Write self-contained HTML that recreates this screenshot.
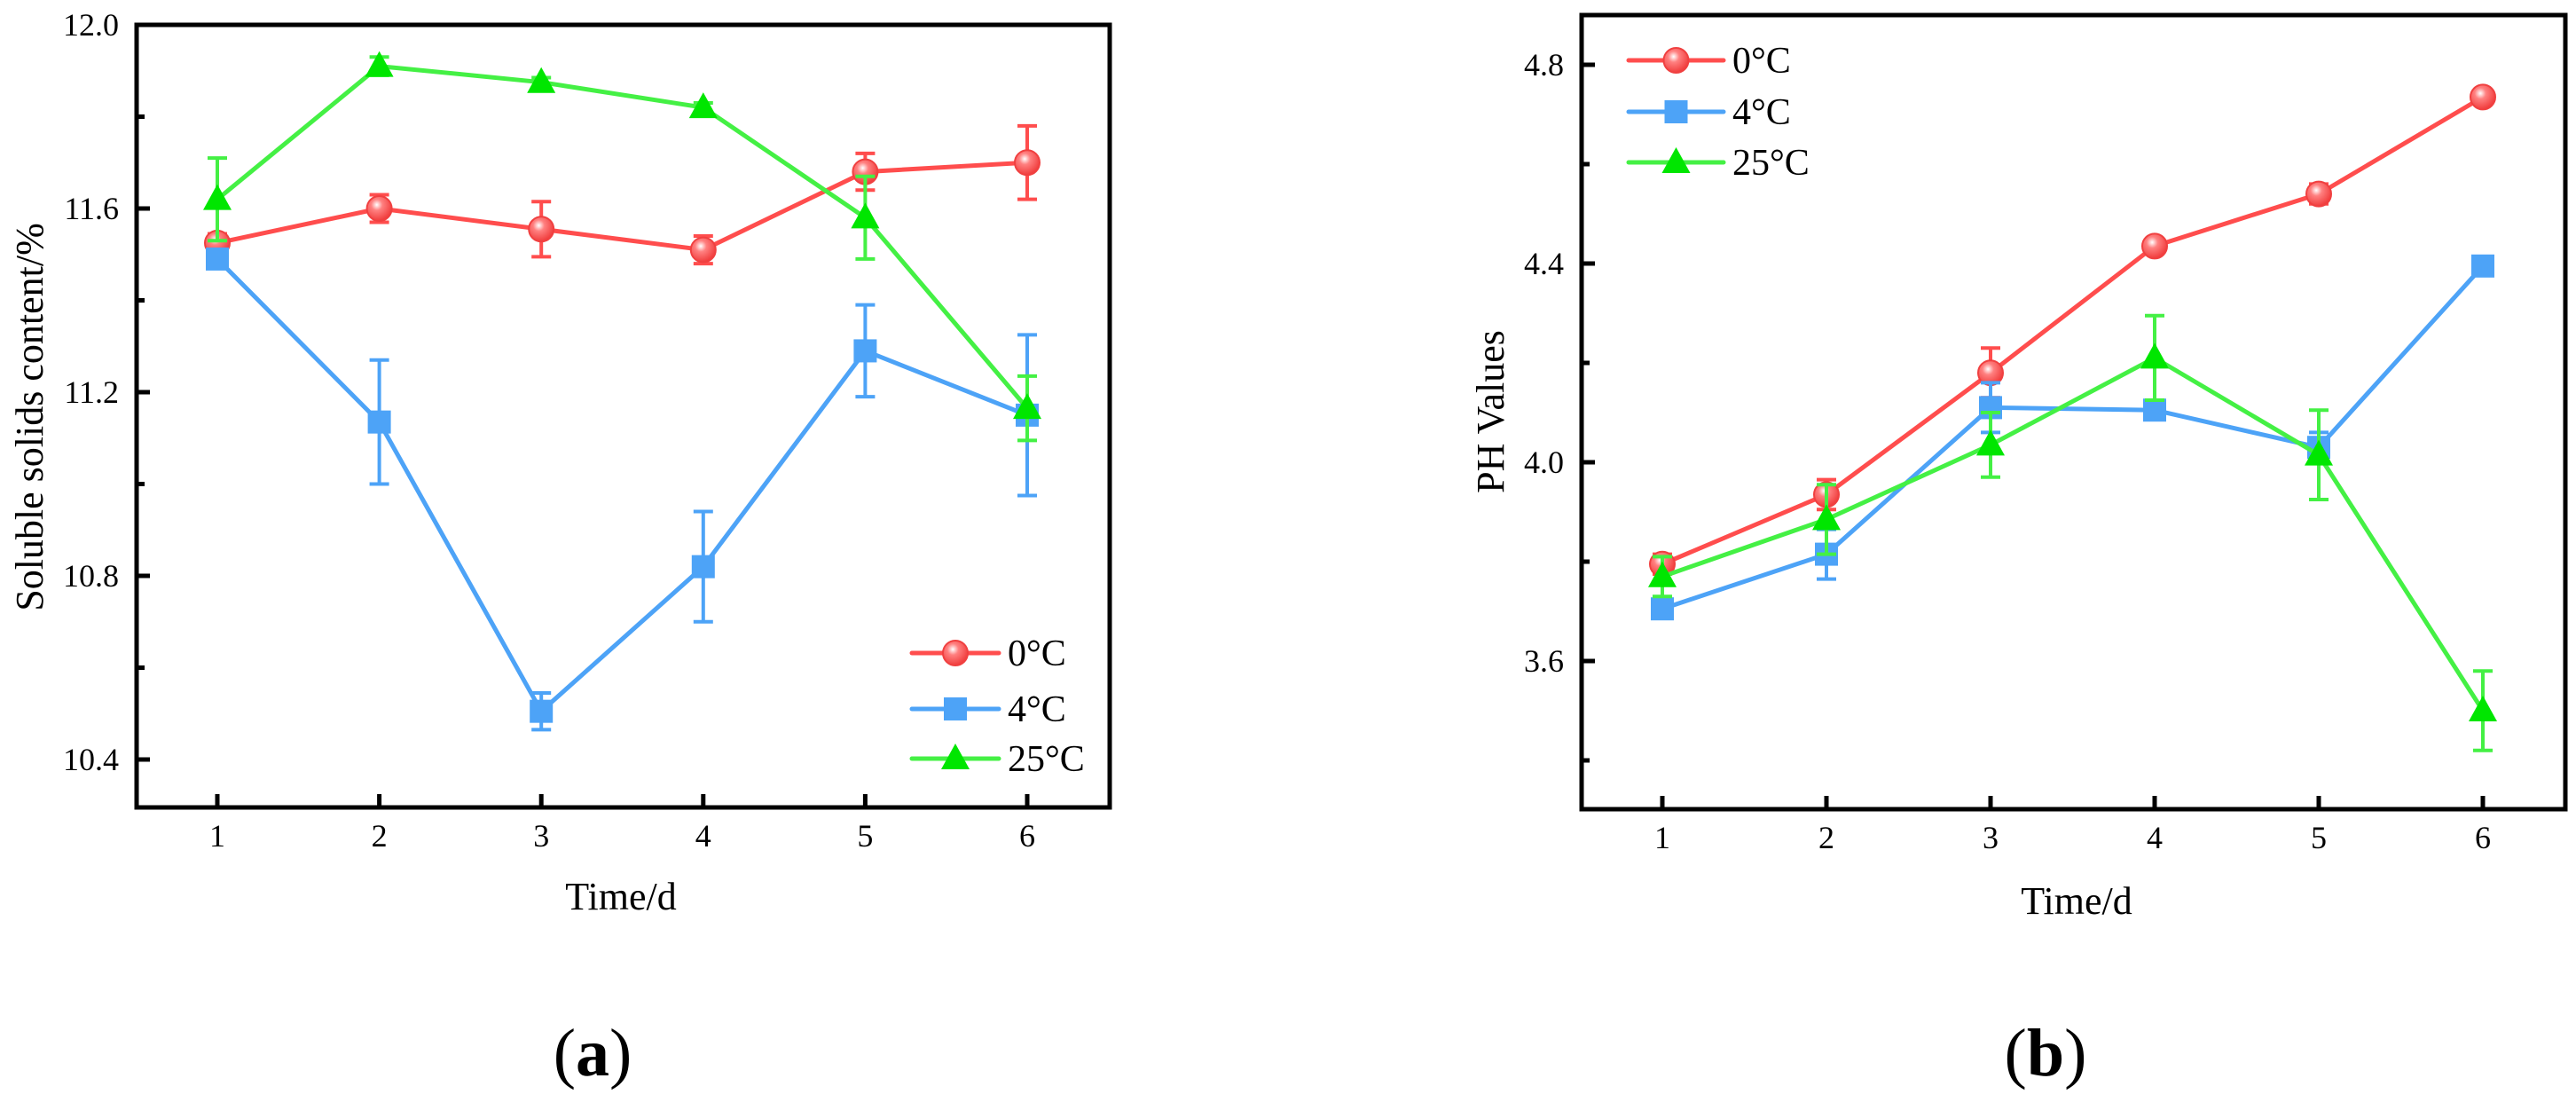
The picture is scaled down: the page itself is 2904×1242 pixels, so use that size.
<!DOCTYPE html>
<html><head><meta charset="utf-8"><style>
html,body{margin:0;padding:0;background:#fff;}
svg{display:block;font-family:"Liberation Serif",serif;}
</style></head><body>
<svg id="fig" width="2904" height="1242" viewBox="0 0 2904 1242" xmlns="http://www.w3.org/2000/svg">
<defs>
<radialGradient id="ballR" cx="0.4" cy="0.35" r="0.65"><stop offset="0" stop-color="#fff"/><stop offset="0.35" stop-color="#ff8080"/><stop offset="1" stop-color="#f03c3c"/></radialGradient>
</defs>
<g id="chartA"></g>
<g id="chartB"></g>
</svg>
<script>
const days = [1,2,3,4,5,6];
const seriesNames = ["0°C","4°C","25°C"];
// Chart (a) soluble solids
const ssc0 = [11.525,11.60,11.555,11.51,11.68,11.70];
const ssc0Err = [0.02,0.03,0.06,0.03,0.04,0.08];
const ssc4 = [11.49,11.135,10.505,10.82,11.29,11.15];
const ssc4Err = [0.02,0.135,0.04,0.12,0.10,0.175];
const ssc25 = [11.62,11.91,11.875,11.82,11.58,11.165];
const ssc25Err = [0.09,0.02,0.01,0.01,0.09,0.07];
const sscTicks = ["10.4","10.8","11.2","11.6","12.0"];
// Chart (b) pH
const ph0 = [3.795,3.935,4.18,4.435,4.54,4.735];
const ph0Err = [0.02,0.03,0.05,0.01,0.02,0.01];
const ph4 = [3.705,3.815,4.11,4.105,4.03,4.395];
const ph4Err = [0.015,0.05,0.05,0.01,0.03,0.01];
const ph25 = [3.77,3.885,4.035,4.21,4.015,3.50];
const ph25Err = [0.04,0.07,0.065,0.085,0.09,0.08];
const phTicks = ["3.6","4.0","4.4","4.8"];

const NS="http://www.w3.org/2000/svg";
function mk(parent,tag,attrs,text){const e=document.createElementNS(NS,tag);for(const k in attrs)e.setAttribute(k,attrs[k]);if(text!==undefined)e.textContent=text;parent.appendChild(e);return e;}
const colors=["#ff4d4d","#4da3f7","#44f044"];
const markColors=["url(#ballR)","#4da3f7","#00e600"];

function marker(g,type,x,y){
  let m;
  if(type===0){m=mk(g,'circle',{cx:x,cy:y,r:14,fill:markColors[0],stroke:"#f04040","stroke-width":2});}
  else if(type===1){m=mk(g,'rect',{x:x-13,y:y-13,width:26,height:26,fill:markColors[1]});}
  else {m=mk(g,'polygon',{points:`${x},${y-17} ${x-16},${y+12} ${x+16},${y+12}`,fill:markColors[2]});}
  return m;
}

function drawChart(gid,cfg){
  const g=document.getElementById(gid);
  const X=v=>cfg.x1+(v-1)*(cfg.x6-cfg.x1)/5;
  const Y=v=>cfg.yTop+(cfg.vTop-v)*cfg.ppu;
  const fr=mk(g,'rect',{x:cfg.L,y:cfg.T,width:cfg.R-cfg.L,height:cfg.B-cfg.T,fill:"none",stroke:"#000","stroke-width":5});
  
  
  days.forEach(d=>{
    const t=mk(g,'line',{x1:X(d),x2:X(d),y1:cfg.B,y2:cfg.B-15,stroke:"#000","stroke-width":5});
    
    
    const l=mk(g,'text',{x:X(d),y:cfg.B+44,"font-size":36,"text-anchor":"middle"},String(d));
    
    
  });
  cfg.ticks.forEach(s=>{
    const v=parseFloat(s);
    const t=mk(g,'line',{x1:cfg.L,x2:cfg.L+15,y1:Y(v),y2:Y(v),stroke:"#000","stroke-width":5});
    
    
    const l=mk(g,'text',{x:cfg.L-20,y:Y(v)+12,"font-size":36,"text-anchor":"end"},s);
    
    
    const mv=v+0.2;
    if(Y(mv)>cfg.T+5){const mt=mk(g,'line',{x1:cfg.L,x2:cfg.L+9,y1:Y(mv),y2:Y(mv),stroke:"#000","stroke-width":5});
    
    }
  });
  const mv0=parseFloat(cfg.ticks[0])-0.2;
  if(Y(mv0)<cfg.B-5){const mt=mk(g,'line',{x1:cfg.L,x2:cfg.L+9,y1:Y(mv0),y2:Y(mv0),stroke:"#000","stroke-width":5});
    
    }
  const xt=mk(g,'text',{x:cfg.xtX,y:cfg.xtY,"font-size":44,"text-anchor":"middle"},"Time/d");
  
  
  const yt=mk(g,'text',{x:0,y:0,"font-size":44,"text-anchor":"middle",transform:`translate(${cfg.ytX},${cfg.ytY}) rotate(-90)`},cfg.ytitle);
  
  
  const pl=mk(g,'text',{x:cfg.plX,y:1212,"font-size":76,"text-anchor":"middle"},"");
  
  
  mk(pl,'tspan',{},"(");mk(pl,'tspan',{"font-weight":"bold"},cfg.panel);mk(pl,'tspan',{},")");
  cfg.series.forEach((s,i)=>{
    const sg=mk(g,'g',{});
    
    
    s.vals.forEach((v,j)=>{
      const x=X(days[j]),e=s.err[j];
      const eb=mk(sg,'path',{d:`M${x},${Y(v-e)}V${Y(v+e)}M${x-11},${Y(v-e)}h22M${x-11},${Y(v+e)}h22`,stroke:colors[i],"stroke-width":4,fill:"none"});
      
      
    });
    const ln=mk(sg,'polyline',{points:s.vals.map((v,j)=>X(days[j])+","+Y(v)).join(" "),fill:"none",stroke:colors[i],"stroke-width":5,"stroke-linejoin":"round"});
    
    
    s.vals.forEach((v,j)=>{
      const m=marker(sg,i,X(days[j]),Y(v));
      
      
    });
  });
  const lg=mk(g,'g',{});
  
  
  seriesNames.forEach((n,i)=>{
    const y=cfg.legY[i];
    const e=mk(lg,'g',{});
    
    
    mk(e,'line',{x1:cfg.legX,x2:cfg.legX+cfg.legW,y1:y,y2:y,stroke:colors[i],"stroke-width":5,"stroke-linecap":"round"});
    marker(e,i,cfg.legX+cfg.legW/2,y);
    mk(e,'text',{x:cfg.legX+cfg.legW+10,y:y+14,"font-size":42},n);
  });
}

drawChart('chartA',{L:154,R:1251,T:28,B:910,x1:245,x6:1158,yTop:28,vTop:12.0,ppu:517.5,
  ticks:sscTicks,ytitle:"Soluble solids content/%",ytX:48,ytY:470,xtX:700,xtY:1025,plX:668,panel:"a",
  legX:1028,legW:98,legY:[736,799,855],
  series:[{vals:ssc0,err:ssc0Err},{vals:ssc4,err:ssc4Err},{vals:ssc25,err:ssc25Err}]});
drawChart('chartB',{L:1783,R:2892,T:17,B:912,x1:1874,x6:2799,yTop:73,vTop:4.8,ppu:560,
  ticks:phTicks,ytitle:"PH Values",ytX:1695,ytY:464,xtX:2341,xtY:1030,plX:2306,panel:"b",
  legX:1836,legW:107,legY:[68,126,183],
  series:[{vals:ph0,err:ph0Err},{vals:ph4,err:ph4Err},{vals:ph25,err:ph25Err}]});
</script>
</body></html>
